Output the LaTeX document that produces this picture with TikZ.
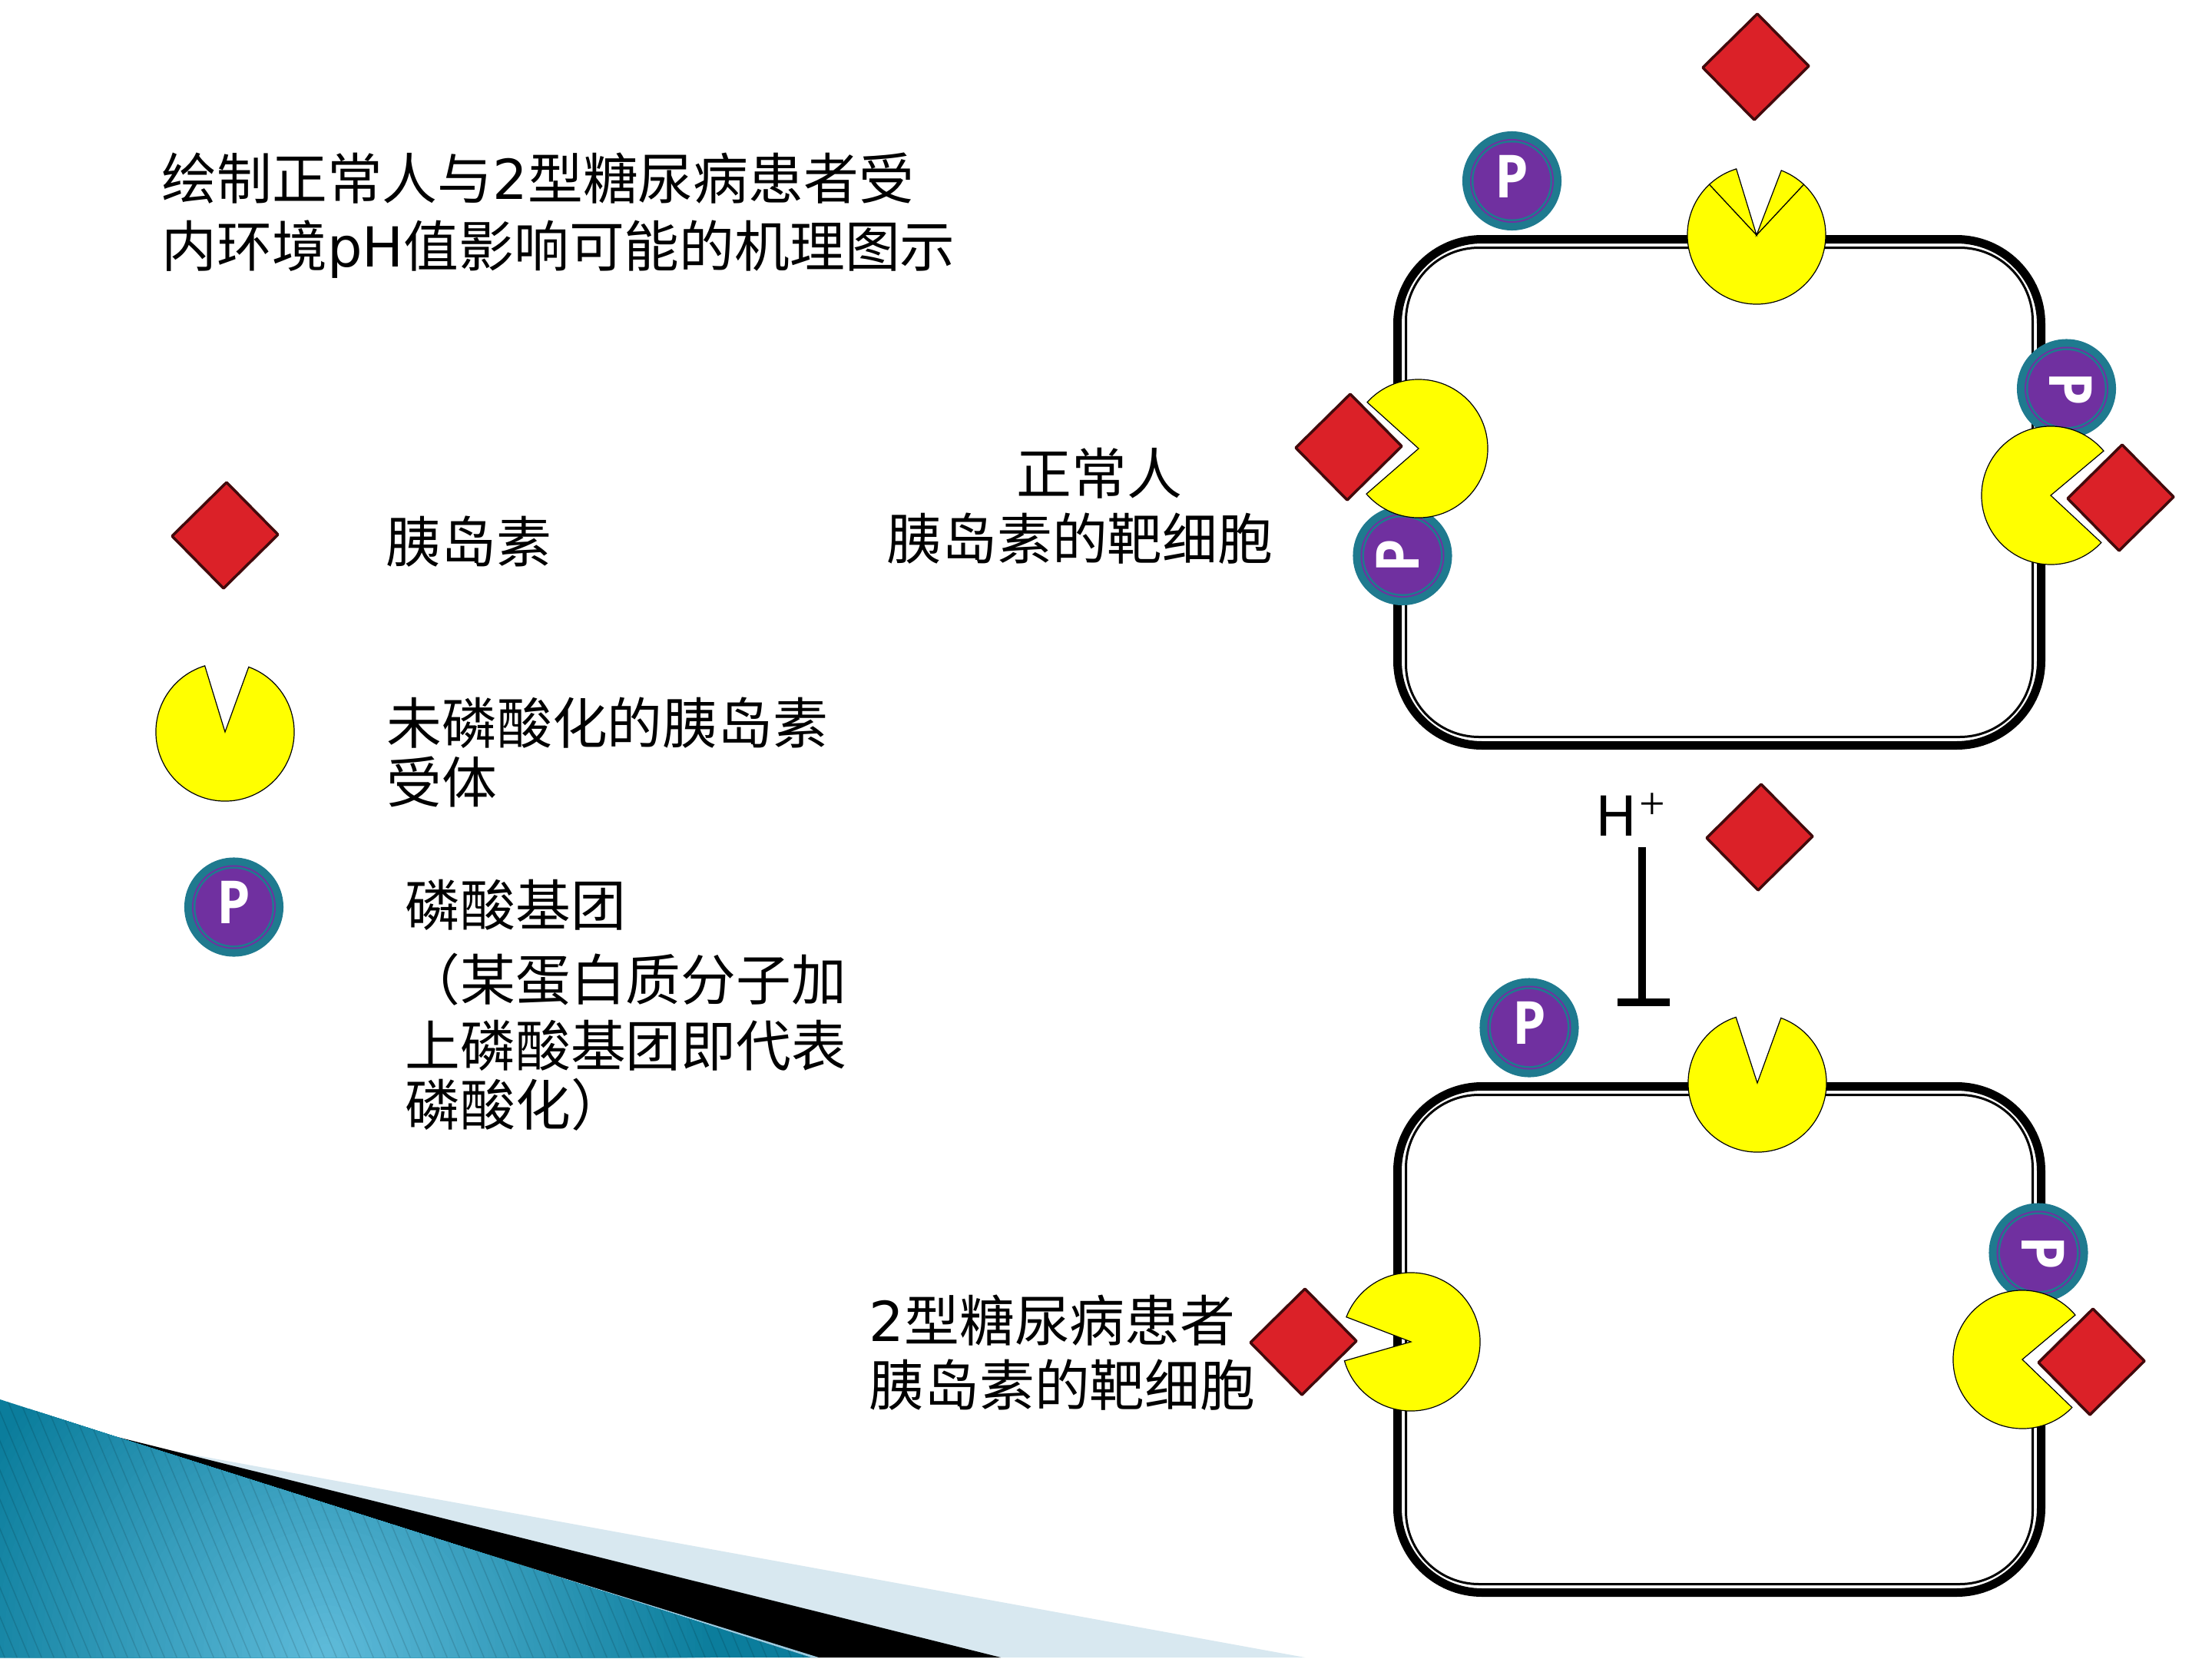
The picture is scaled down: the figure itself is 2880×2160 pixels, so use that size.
\documentclass[tikz,border=0pt]{standalone}
\usepackage{fontspec}
\setmainfont{Noto Sans CJK SC}
\newfontfamily\latin{DejaVu Sans}
\newfontfamily\badgefont{Open Sans}
\newfontfamily\plusfont{Liberation Serif}
\definecolor{insulinred}{HTML}{DB2128}
\definecolor{recyellow}{HTML}{FFFF00}
\definecolor{badgeteal}{HTML}{1F7A8F}
\definecolor{badgepurple}{HTML}{7030A0}
\definecolor{bandpale}{HTML}{D8E8F0}
\definecolor{sliver}{HTML}{9CCBE0}
\definecolor{panelfar}{HTML}{0B7D9C}
\definecolor{panelnear}{HTML}{5FBBDA}
\tikzset{
  x=0.01cm, y=-0.01cm,
  label text/.style={inner sep=0pt, anchor=base west, align=left, font=\fontsize{20.42}{23}\selectfont},
  insulin/.style={draw=black!70!insulinred, fill=insulinred, line width=0.035cm, line join=round},
  receptor/.style={draw=black, fill=recyellow, line width=0.012cm, line join=miter},
  wall thick/.style={draw=black, line width=0.11cm},
  wall thin/.style={draw=black, line width=0.03cm},
}
% one insulin molecule: a slightly skewed square standing on its corner
\newcommand{\insulinmark}[2]{%
  \draw[insulin] (#1+2,#2-69) -- (#1+69,#2-1) -- (#1-2,#2+69) -- (#1-69,#2+1) -- cycle;}
% one receptor: a disc with the wedge between two angles cut out
\newcommand{\receptormark}[4]{%
  \draw[receptor] (#1,#2) -- ++(#4:0.9cm)
     arc[start angle=#4, end angle=360+#3, radius=0.9cm] -- cycle;}
% a loose flap of a receptor rim, between two angles
\newcommand{\receptorflap}[4]{%
  \draw[receptor] (#1,#2) -- ++(#3:0.9cm)
     arc[start angle=#3, end angle=#4, radius=0.9cm] -- cycle;}
% a bound receptor's mouth hides the wall behind it
\newcommand{\mouthclear}[4]{%
  \fill[white] (#1,#2) -- ++(#3:0.9cm) arc[start angle=#3, end angle=#4, radius=0.9cm] -- cycle;}
% one phosphate badge: teal disc, ringed purple core, white letter
\newcommand{\phosphate}[4]{%
  \node[circle, fill=badgeteal, minimum size=1.29cm, inner sep=0pt] (#1) at (#2,#3) {};
  \fill[badgepurple] (#1.center) circle[radius=0.545cm];
  \fill[badgeteal] (#1.center) circle[radius=0.525cm];
  \fill[badgepurple] (#1.center) circle[radius=0.5cm];
  \node[inner sep=0pt, text=white, rotate=#4, xscale=0.9, font=\badgefont\bfseries\fontsize{22}{22}\selectfont] (#1l) at ([shift={(#4+90:0.06cm)}] #2,#3) {P};}
% one cell outline: heavy outer wall with a fine inner line
\newcommand{\cellwall}[4]{%
  \draw[wall thick, rounded corners=1.1cm] (#1+5.5,#2+5.5) rectangle (#3-5.5,#4-5.5);
  \draw[wall thin, rounded corners=0.95cm] (#1+16.5,#2+16.5) rectangle (#3-16.5,#4-16.5);}
\begin{document}
\begin{tikzpicture}
\useasboundingbox (0,0) rectangle (2880,2160);
\fill[white] (0,0) rectangle (2880,2160);

% corner decoration
\fill[bandpale] (149,1870) -- (218,1888) -- (1699,2158) -- (1000,2158) -- cycle;
\fill[black] (149,1870) -- (1303,2158) -- (1056,2158) -- cycle;
\fill[sliver] (558,2000) -- (1066,2158) -- (1056,2158) -- cycle;
\begin{scope}
  \clip (0,1822) -- (149,1870) -- (1056,2158) -- (0,2158) -- cycle;
  \fill[panelfar] (0,1800) rectangle (1100,2160);
  % glow built from concentric discs
  \foreach \r in {500,490,...,10} {
    \pgfmathsetmacro{\glow}{100*(1-\r/510)}
    \fill[panelnear!\glow!panelfar] (425,2150) circle[radius=\r];
  }
  \foreach \i in {-12,...,70}
    \draw[black, opacity=0.12, line width=0.015cm] (16*\i,1800) -- (16*\i+151,2160);
\end{scope}

% title
\node[label text] (title) at (210,347) {绘制正常人与{\latin 2}型糖尿病患者受\\[0.07cm]内环境{\latin pH}值影响可能的机理图示};

% legend
\insulinmark{293}{697}
\node[label text] (leginsulin) at (502,732) {胰岛素};
\receptormark{293}{953}{70}{107}
\node[label text] (legreceptor) at (503,1045) {未磷酸化的胰岛素\\[-0.04cm]受体};
\phosphate{legp}{304.5}{1181}{0}
\node[label text] (legphos) at (527,1205) {磷酸基团};
\node[label text] (legnote) at (527,1465) {（某蛋白质分子加\\[0.05cm]上磷酸基团即代表\\[-0.04cm]磷酸化）};

% upper cell, normal
\cellwall{1814}{306}{2663}{976}
\node[label text] (normalcap) at (1154,728) {\hspace*{1.69cm}正常人\\[0.04cm]胰岛素的靶细胞};
\phosphate{pA}{1968.5}{235.5}{0}
\phosphate{pB}{2690.5}{506}{-90}
\phosphate{pC}{1826}{723.5}{90}
\insulinmark{2286}{87}
\receptormark{2287}{306}{47}{133}
\receptorflap{2287}{306}{107}{133}
\receptorflap{2287}{306}{47}{69}
\mouthclear{1847}{584}{138}{221}
\receptormark{1847}{584}{138}{221}
\insulinmark{1756}{582}
\mouthclear{2670}{645}{-43}{40}
\receptormark{2670}{645}{-43}{40}
\insulinmark{2761}{648}

% inhibition by protons
\node[inner sep=0pt, anchor=base west, font=\latin\fontsize{20.42}{23}\selectfont] (hplus) at (2077,1088) {H\hspace{0.03cm}\raisebox{0.21cm}{\plusfont\fontsize{17}{17}\selectfont +}};
\coordinate (inhstart) at (2138,1103);
\coordinate (inhend) at (2138,1305);
\coordinate (barleft) at (2106,1305);
\coordinate (barright) at (2174,1305);
\draw[line width=0.095cm] (inhstart) -- (inhend);
\draw[line width=0.1cm] (barleft) -- (barright);
\insulinmark{2291}{1090}

% lower cell, type 2 diabetes
\cellwall{1814}{1409}{2663}{2079}
\node[label text] (patientcap) at (1131,1830) {{\latin 2}型糖尿病患者\\[0.03cm]胰岛素的靶细胞};
\phosphate{pD}{1991}{1338}{0}
\phosphate{pE}{2654}{1631}{-90}
\receptormark{2288}{1410}{70}{108}
\receptormark{1837}{1747}{159}{196}
\insulinmark{1697}{1747}
\mouthclear{2633}{1770}{-44}{40}
\receptormark{2633}{1770}{-44}{40}
\insulinmark{2723}{1773}
\end{tikzpicture}
\end{document}
